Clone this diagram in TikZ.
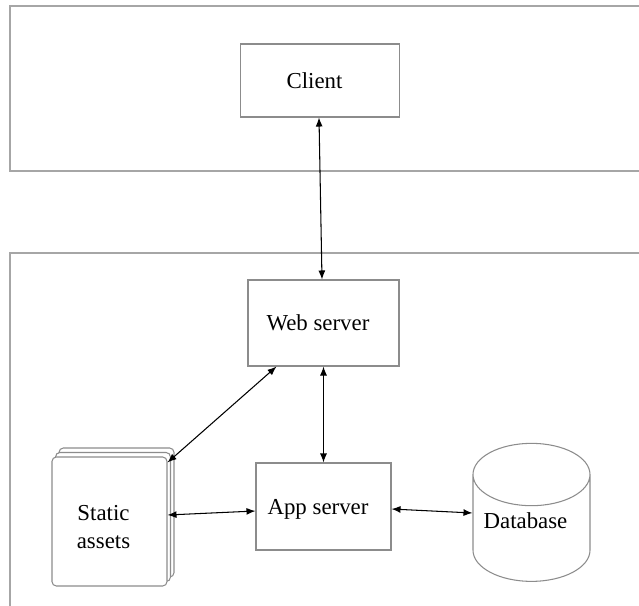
\documentclass[tikz,border=0pt]{standalone}
\usepackage{fontspec}
\setmainfont{Liberation Serif}
\usetikzlibrary{shapes.geometric, arrows.meta, positioning}

\tikzset{
    box/.style={rectangle, draw=black!45, line width=0.6pt, fill=white, font=\fontsize{13}{15.6}\selectfont,
        text depth=0pt, execute at end node={\hspace*{0.22cm}}},
    card/.style={rectangle, rounded corners=2.5pt, draw=black!45, line width=0.6pt, fill=white, minimum width=2.3cm, minimum height=2.58cm},
    group/.style={draw=black!35, line width=1pt},
    link/.style={<->, >={Latex[length=1.8mm, width=1.4mm]}, line width=0.6pt}
}

\begin{document}
\begin{tikzpicture}
    \useasboundingbox (0, 0) rectangle (12.78, -12.12);

    % outer groups, open on the right
    \draw[group] (12.78, -0.12) -- (0.2, -0.12) -- (0.2, -3.42) -- (12.78, -3.42);
    \draw[group] (12.78, -5.06) -- (0.2, -5.06) -- (0.2, -12.12);

    \node[box, minimum width=3.18cm, minimum height=1.46cm] (client) at (6.4, -1.61) {Client};
    \node[box, minimum width=3.02cm, minimum height=1.72cm] (web) at (6.47, -6.46) {Web server};
    \node[box, minimum width=2.7cm, minimum height=1.74cm] (app) at (6.47, -10.13) {App server};

    % stacked cards
    \node[card] (back2) at (2.33, -10.25) {};
    \node[card] (back1) at (2.26, -10.34) {};
    \node[card, align=center, font=\fontsize{13}{15.6}\selectfont] (assets) at (2.19, -10.43)
        {\rule{0pt}{0.52cm}Static\hspace*{0.24cm}\\assets\hspace*{0.24cm}};

    \node[cylinder, shape border rotate=90, aspect=0.58, draw=black!45, line width=0.6pt, fill=white,
          minimum width=2.34cm, minimum height=2.76cm, text depth=0.56cm,
          font=\fontsize{13}{15.6}\selectfont] (db) at (10.63, -10.7) {Database\hspace*{0.24cm}};

    \draw[link] ([xshift=-0.02cm]client.south) -- ([xshift=-0.03cm]web.north);
    \draw[link] (web) -- (app);
    \draw[link] ([xshift=0.58cm]web.south west) -- ([yshift=-0.12cm]assets.north east);
    \draw[link] ([yshift=0.13cm]assets.east) -- ([yshift=-0.09cm]app.west);
    \draw[link] ([yshift=-0.05cm]app.east) -- ([yshift=0.44cm]db.west);
\end{tikzpicture}
\end{document}
